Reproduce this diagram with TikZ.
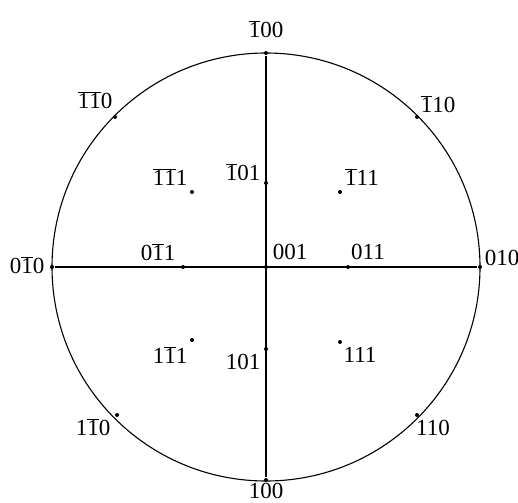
\documentclass[tikz,border=0pt]{standalone}
\usepackage{fontspec}
\setmainfont{Liberation Serif}
\usepackage{tikz}
\usetikzlibrary{positioning}
\newcommand{\nb}{\ensuremath{\overline{\mbox{1}}}}
\tikzset{
  pole/.style={circle, fill=black, inner sep=0pt, minimum size=4pt},
  ilabel/.style={font=\fontsize{23}{25}\selectfont, inner sep=0pt}
}

\begin{document}
\begin{tikzpicture}[x=1pt, y=-1pt, line width=1.3pt]
    \useasboundingbox (0,0) rectangle (518,502);
    % primitive circle and the two axes
    \node[pole] (00p) at (266,267) {};
    \draw[line width=1.1pt] (00p) circle (214pt);
    \foreach \n/\x/\y in {m00/266/53, p00/266/480, 0m0/52/267, 0p0/480/267,
        mm0/115/117, mp0/417/117, pm0/117/415, pp0/417/415,
        m0p/266/183, mmp/192/192, mpp/340/192, 0mp/183/267,
        0pp/348/267, pmp/192/340, p0p/266/349, ppp/340/342}
      \node[pole] (\n) at (\x,\y) {};
    \draw (m00) -- (p00);
    \draw (0m0) -- (0p0);
    % indices
    \node[ilabel] (lm00) at (266,29) {\nb00};
    \node[ilabel] (lp00) at (266,491) {100};
    \node[ilabel] (l0m0) at (27,265) {0\nb0};
    \node[ilabel] (l0p0) at (502,258) {010};
    \node[ilabel] (lmm0) at (95,100) {\nb\nb0};
    \node[ilabel] (lmp0) at (438,104) {\nb10};
    \node[ilabel] (lpm0) at (93,427) {1\nb0};
    \node[ilabel] (lpp0) at (433,428) {110};
    \node[ilabel] (lm0p) at (243,172) {\nb01};
    \node[ilabel] (lmmp) at (170,177) {\nb\nb1};
    \node[ilabel] (lmpp) at (362,177) {\nb11};
    \node[ilabel] (l0mp) at (158,252) {0\nb1};
    \node[ilabel] (l00p) at (290,252) {001};
    \node[ilabel] (l0pp) at (368,252) {011};
    \node[ilabel] (lpmp) at (170,355) {1\nb1};
    \node[ilabel] (lp0p) at (243,362) {101};
    \node[ilabel] (lppp) at (360,355) {111};
\end{tikzpicture}
\end{document}
